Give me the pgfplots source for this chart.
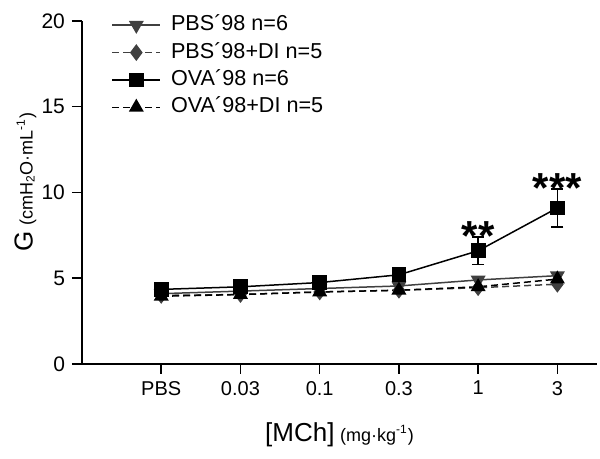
\documentclass[border=0pt]{standalone}
\usepackage{fontspec}
\setmainfont{Liberation Sans}
\usepackage{pgfplots}
\pgfplotsset{compat=1.18}
\definecolor{dg}{HTML}{404040}
\begin{document}
\begin{tikzpicture}
\begin{axis}[
  scale only axis, width=257.5pt, height=171.5pt,
  xmin=-1, xmax=5.5, ymin=0, ymax=20,
  axis lines=left, axis line style={-, line width=0.75pt},
  xtick={0,1,2,3,4,5}, xticklabels={PBS,0.03,0.1,0.3,1,3},
  ytick={0,5,10,15,20},
  tick align=outside, major tick length=5pt,
  tick style={black, line width=0.75pt},
  /pgf/number format/assume math mode=true,
  yticklabel style={font=\fontsize{10.5}{12}\selectfont},
  xticklabel style={font=\fontsize{10}{12}\selectfont},
  xlabel={{\fontsize{13}{15}\selectfont [MCh]}\ {\fontsize{9}{10}\selectfont (mg·kg\textsuperscript{-1})}},
  ylabel={{\fontsize{13}{15}\selectfont G}\ {\fontsize{9}{10}\selectfont (cmH\textsubscript{2}O·mL\textsuperscript{-1})}},
  xlabel style={at={(axis description cs:0.5,-0.205)}, anchor=center},
  ylabel style={at={(axis description cs:-0.11,0.53)}, anchor=center},
  legend cell align=left,
  legend style={at={(axis description cs:0.045,1.04)}, anchor=north west, draw=none, fill=none,
    font=\fontsize{10.8}{12}\selectfont, row sep=0.2pt,
    nodes={inner sep=1.5pt, text height=8pt, text depth=2.5pt},
    /tikz/every odd column/.append style={column sep=3.5pt}},
  legend image code/.code={\draw[mark repeat=2,mark phase=2] plot coordinates {(0pt,0pt) (12pt,0pt) (24pt,0pt)};},
  clip=false,
]
\coordinate (sw) at (rel axis cs:0,0);
\addplot[dg, line width=0.75pt, mark=triangle*, mark size=3.6pt, mark options={solid, rotate=180, fill=dg}]
  coordinates {(0,4.1) (1,4.25) (2,4.4) (3,4.55) (4,4.9) (5,5.15)};
\addlegendentry{PBS´98 n=6}
\addplot[dg, line width=0.75pt, dash pattern=on 3.5pt off 2pt, mark=diamond*, mark size=3.6pt, mark options={solid, fill=dg}]
  coordinates {(0,4.0) (1,4.05) (2,4.2) (3,4.3) (4,4.45) (5,4.65)};
\addlegendentry{PBS´98+DI n=5}
\addplot[black, line width=0.75pt, mark=square*, mark size=3.3pt, mark options={solid, fill=black},
  error bars/.cd, y dir=both, y explicit, error mark options={rotate=90, mark size=3pt, line width=0.75pt},
  error bar style={line width=0.75pt}]
  coordinates {(0,4.35) +- (0,0.1) (1,4.5) +- (0,0.1) (2,4.75) +- (0,0.1) (3,5.2) +- (0,0.15) (4,6.6) +- (0,0.8) (5,9.1) +- (0,1.1)};
\addlegendentry{OVA´98 n=6}
\addplot[black, line width=0.75pt, dash pattern=on 3.5pt off 2pt, mark=triangle*, mark size=3.6pt, mark options={solid, fill=black}]
  coordinates {(0,3.95) (1,4.05) (2,4.2) (3,4.3) (4,4.5) (5,4.95)};
\addlegendentry{OVA´98+DI n=5}
\node[font=\fontsize{21}{21}\bfseries\selectfont, anchor=base, inner sep=0pt, yshift=-12pt] at (axis cs:4,8.0) {**};
\node[font=\fontsize{21}{21}\bfseries\selectfont, anchor=base, inner sep=0pt, yshift=-12pt] at (axis cs:5,10.83) {***};
\end{axis}
\pgfresetboundingbox
\path (sw) ++(-41pt,-47.5pt) rectangle ++(300pt,229.5pt);
\end{tikzpicture}
\end{document}
